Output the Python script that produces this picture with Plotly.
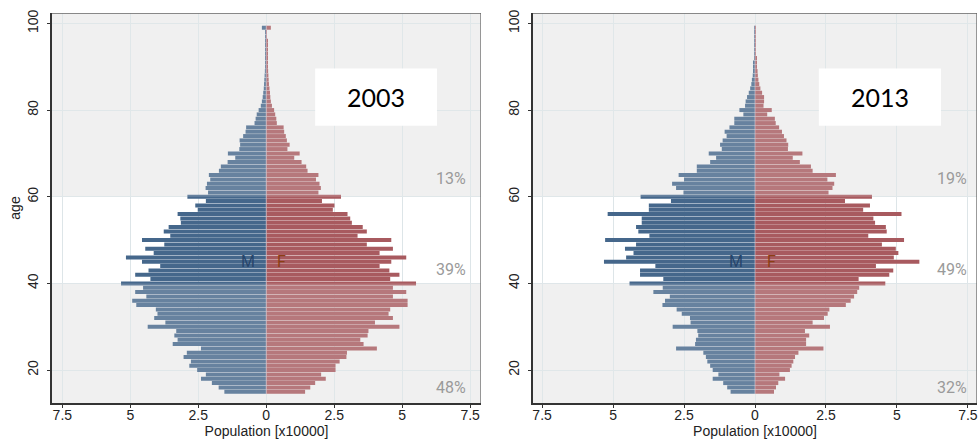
import plotly.graph_objects as go

# ---------------- data ----------------
ages = list(range(15, 100))

male_2003 = [1.54, 1.75, 2.00, 2.40, 2.22, 2.54, 2.83, 2.77, 3.04, 2.92,
             2.40, 3.44, 3.26, 3.38, 3.31, 4.36, 3.71, 4.12, 4.00, 4.06,
             4.78, 4.93, 4.41, 4.82, 4.53, 5.34, 4.26, 4.82, 4.33, 3.90,
             4.57, 5.16, 4.14, 4.45, 3.75, 4.57, 3.53, 3.77, 3.59, 3.14,
             3.16, 3.26, 2.52, 2.61, 2.22, 2.90, 2.14, 2.23, 2.18, 2.06,
             2.11, 1.74, 1.67, 1.42, 1.14, 1.41, 0.99, 0.96, 0.98, 0.85,
             0.76, 0.74, 0.43, 0.39, 0.35, 0.28, 0.20, 0.16, 0.13, 0.11,
             0.09, 0.08, 0.07, 0.06, 0.05, 0.04, 0.04, 0.03, 0.03, 0.03,
             0.02, 0.02, 0.02, 0.02, 0.16]
female_2003 = [1.43, 1.62, 1.80, 2.19, 2.02, 2.55, 2.55, 2.70, 2.95, 2.97,
               4.07, 3.58, 3.46, 3.73, 3.76, 4.90, 4.00, 4.66, 4.50, 4.56,
               5.20, 5.20, 4.66, 5.15, 4.66, 5.51, 4.56, 4.90, 4.53, 4.17,
               4.60, 5.15, 4.17, 4.66, 3.70, 4.60, 3.36, 3.70, 3.55, 3.15,
               3.09, 2.99, 2.45, 2.51, 2.05, 2.75, 1.92, 2.01, 1.96, 1.83,
               1.92, 1.52, 1.47, 1.30, 1.03, 1.23, 0.78, 0.86, 0.76, 0.72,
               0.66, 0.64, 0.39, 0.37, 0.33, 0.29, 0.21, 0.17, 0.15, 0.14,
               0.12, 0.10, 0.09, 0.08, 0.07, 0.06, 0.05, 0.04, 0.04, 0.03,
               0.03, 0.03, 0.02, 0.02, 0.17]
male_2013 = [0.86, 0.98, 1.12, 1.49, 1.29, 1.49, 1.58, 1.68, 1.73, 1.82,
             2.78, 2.11, 2.08, 2.00, 2.03, 2.90, 2.27, 2.29, 2.58, 2.76,
             3.26, 3.17, 3.00, 3.58, 3.25, 4.42, 3.23, 4.05, 4.05, 3.51,
             5.32, 4.54, 4.28, 4.58, 4.19, 5.28, 3.72, 4.11, 4.19, 3.99,
             3.99, 5.19, 3.74, 3.74, 2.96, 4.03, 2.52, 2.78, 2.92, 2.50,
             2.69, 2.05, 2.05, 1.58, 1.37, 1.63, 1.17, 1.23, 1.14, 1.00,
             1.07, 0.90, 0.73, 0.73, 0.41, 0.55, 0.35, 0.33, 0.28, 0.22,
             0.17, 0.13, 0.11, 0.08, 0.06, 0.05, 0.04, 0.03, 0.02, 0.02,
             0.02, 0.01, 0.01, 0.01, 0.01]
female_2013 = [0.67, 0.74, 0.82, 1.06, 0.86, 1.23, 1.29, 1.35, 1.41, 1.53,
               2.41, 1.80, 1.80, 1.91, 1.76, 2.64, 2.03, 2.43, 2.56, 2.62,
               3.20, 3.37, 3.49, 3.60, 3.67, 4.59, 3.65, 4.73, 4.87, 4.26,
               5.79, 4.89, 5.05, 4.96, 4.47, 5.25, 3.99, 4.64, 4.61, 4.23,
               4.17, 5.16, 3.81, 4.05, 3.17, 4.12, 2.59, 2.73, 2.79, 2.55,
               2.85, 2.03, 1.97, 1.58, 1.33, 1.67, 1.16, 1.17, 1.11, 1.02,
               0.95, 0.85, 0.73, 0.70, 0.43, 0.59, 0.30, 0.32, 0.32, 0.25,
               0.19, 0.15, 0.12, 0.10, 0.09, 0.07, 0.05, 0.04, 0.03, 0.03,
               0.02, 0.02, 0.02, 0.01, 0.01]

years = ["2003", "2013"]
share_labels = [["13%", "39%", "48%"], ["19%", "49%", "32%"]]
xtick_vals = [-7.5, -5, -2.5, 0, 2.5, 5, 7.5]
xtick_text = ["7.5", "5", "2.5", "0", "2.5", "5", "7.5"]
ytick_vals = [20, 40, 60, 80, 100]

# ---------------- styling ----------------
MALE = "#45678b"
FEMALE = "#a85a5f"
GRID = "#dde5e8"
FONT = "Liberation Sans"

panels = [
    dict(x="x", y="y", xr=[-7.88, 7.9], dom=[52 / 979, 481 / 979]),
    dict(x="x2", y="y2", xr=[-7.82, 7.82], dom=[533 / 979, 977 / 979]),
]
yr = [12.4, 102.4]
ydom = [1 - 403 / 441, 1 - 13 / 441]

fig = go.Figure()
data = [(male_2003, female_2003), (male_2013, female_2013)]
for p, (m, f) in zip(panels, data):
    fig.add_trace(go.Bar(y=ages, x=[-v for v in m], orientation="h",
                         marker=dict(color=MALE, line=dict(width=0)),
                         xaxis=p["x"], yaxis=p["y"], showlegend=False))
    fig.add_trace(go.Bar(y=ages, x=f, orientation="h",
                         marker=dict(color=FEMALE, line=dict(width=0)),
                         xaxis=p["x"], yaxis=p["y"], showlegend=False))

shapes = []
annotations = []
for i, p in enumerate(panels):
    xr = p["xr"]
    xref, yref = p["x"], p["y"]
    # white band 40-60 under grid
    shapes.append(dict(type="rect", xref=xref, yref=yref, x0=xr[0], x1=xr[1],
                       y0=40, y1=60, fillcolor="white", line_width=0, layer="below"))
    # translucent grey veil over bars outside band
    for y0, y1 in [(yr[0], 40), (60, yr[1])]:
        shapes.append(dict(type="rect", xref=xref, yref=yref, x0=xr[0], x1=xr[1],
                           y0=y0, y1=y1, fillcolor="rgba(240,240,240,0.2)",
                           line_width=0, layer="above"))
    # centre divider
    shapes.append(dict(type="line", xref=xref, yref=yref, x0=0, x1=0,
                       y0=14.5, y1=99.5, line=dict(color="rgba(225,215,225,0.55)", width=1),
                       layer="above"))
    # top / right frame
    shapes.append(dict(type="line", xref=xref, yref=yref, x0=xr[0], x1=xr[1],
                       y0=yr[1], y1=yr[1], line=dict(color="#666666", width=1.3)))
    shapes.append(dict(type="line", xref=xref, yref=yref, x0=xr[1], x1=xr[1],
                       y0=yr[0], y1=yr[1], line=dict(color="#666666", width=1.3)))
    # year box
    bx = [(1.80, 6.28), (2.25, 6.55)][i]
    shapes.append(dict(type="rect", xref=xref, yref=yref, x0=bx[0], x1=bx[1],
                       y0=76.4, y1=89.6, fillcolor="white", line_width=0, layer="above"))
    annotations.append(dict(xref=xref, yref=yref, x=(bx[0] + bx[1]) / 2, y=83.0,
                            text=years[i], showarrow=False,
                            font=dict(family="Lato", size=25, color="black")))
    # shares
    px = [6.8, 6.93][i]
    for lab, yy in zip(share_labels[i], [64.3, 43.1, 15.9]):
        annotations.append(dict(xref=xref, yref=yref, x=px, y=yy, text=lab,
                                showarrow=False,
                                font=dict(family="Roboto", size=16, color="#9a9a9a")))
    # M / F
    annotations.append(dict(xref=xref, yref=yref, x=-0.67, y=45.0, text="M", showarrow=False,
                            font=dict(family="Roboto", size=16, color="#26456b")))
    annotations.append(dict(xref=xref, yref=yref, x=0.57, y=45.0, text="F", showarrow=False,
                            font=dict(family="Roboto", size=16, color="#8a3f14")))

axis_common = dict(showgrid=True, gridcolor=GRID, gridwidth=1, zeroline=False,
                   showline=True, linecolor="#333333", linewidth=2,
                   ticks="outside", ticklen=3, tickcolor="#333333",
                   tickfont=dict(family=FONT, size=14, color="#222222"),
                   automargin=False, fixedrange=True)

layout = dict(
    width=979, height=441,
    margin=dict(l=0, r=0, t=0, b=0),
    paper_bgcolor="white", plot_bgcolor="#f0f0f0",
    barmode="relative", bargap=0.08,
    shapes=shapes, annotations=annotations,
    font=dict(family=FONT, size=14, color="#222222"),
)
for i, p in enumerate(panels):
    xa = "xaxis" if i == 0 else "xaxis2"
    ya = "yaxis" if i == 0 else "yaxis2"
    layout[xa] = dict(axis_common, domain=p["dom"], range=p["xr"], anchor=p["y"],
                      tickvals=xtick_vals, ticktext=xtick_text, ticklabelstandoff=-5,
                      title=dict(text="Population [x10000]", standoff=0,
                                 font=dict(family=FONT, size=14, color="#222222")))
    layout[ya] = dict(axis_common, domain=ydom, range=yr, anchor=p["x"],
                      tickvals=ytick_vals, tickangle=-90, ticklabelstandoff=3,
                      title=dict(text="age" if i == 0 else "", standoff=2,
                                 font=dict(family=FONT, size=14, color="#222222")))

fig.update_layout(**layout)
fig.write_html("out.html", config={"displayModeBar": False},
               post_script="document.body.style.margin='0';document.body.style.overflow='hidden';")
